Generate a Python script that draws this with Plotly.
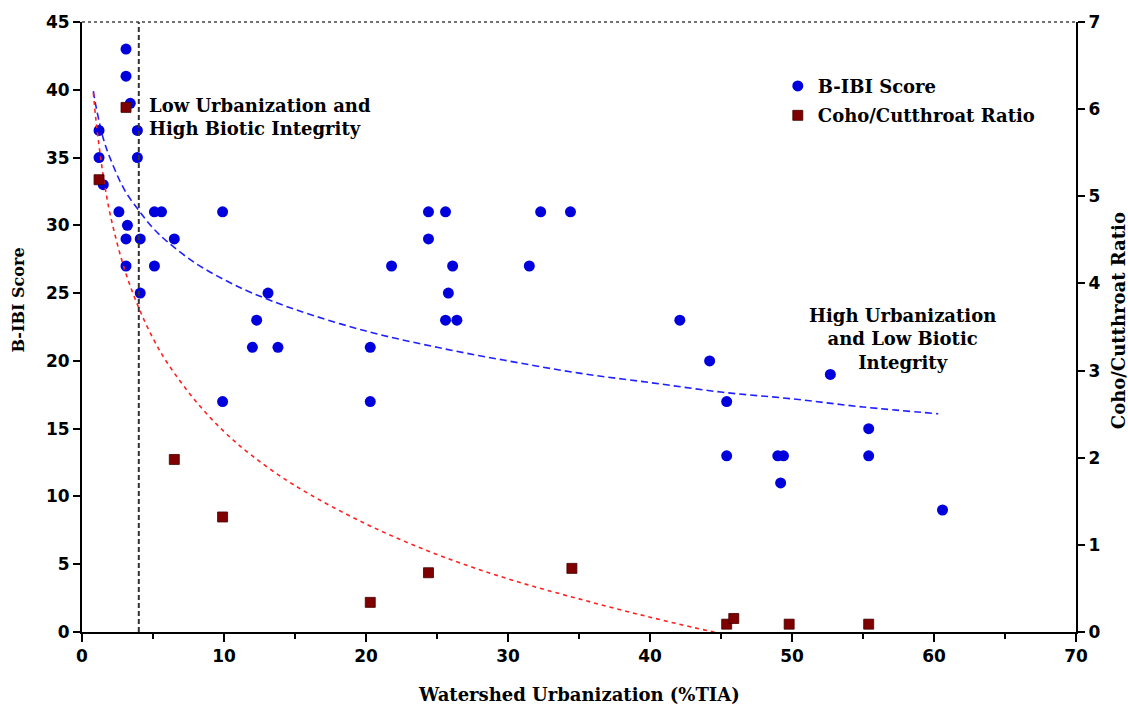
import plotly.graph_objects as go

# ---------------- data ----------------
bibi_tia = [3.1, 3.1, 3.4, 1.2, 3.9, 1.2, 3.9, 1.5, 2.6, 5.1, 5.6, 9.9, 24.4, 25.6, 32.3, 34.4,
            3.2, 3.1, 4.1, 6.5, 24.4, 3.1, 5.1, 21.8, 26.1, 31.5, 4.1, 13.1, 25.8,
            12.3, 25.6, 26.4, 42.1, 12.0, 13.8, 20.3, 44.2, 52.7, 9.9, 20.3, 45.4,
            55.4, 45.4, 49.0, 49.4, 55.4, 49.2, 60.6]
bibi_score = [43, 41, 39, 37, 37, 35, 35, 33, 31, 31, 31, 31, 31, 31, 31, 31,
              30, 29, 29, 29, 29, 27, 27, 27, 27, 27, 25, 25, 25,
              23, 23, 23, 23, 21, 21, 21, 20, 19, 17, 17, 17,
              15, 13, 13, 13, 13, 11, 9]

coho_tia = [3.1, 1.2, 6.5, 9.9, 20.3, 24.4, 34.5, 45.4, 45.9, 49.8, 55.4]
coho_ratio = [6.02, 5.19, 1.98, 1.32, 0.34, 0.68, 0.73, 0.09, 0.155, 0.09, 0.09]

# trend curves
bibi_trend_x = [0.8, 1, 1.5, 2, 3, 4, 5, 6, 8, 10, 12, 15, 20, 25, 30, 35, 40, 45, 50, 55, 60.3]
bibi_trend_y = [39.9, 38.7, 36.4, 34.9, 32.6, 31.1, 29.8, 28.8, 27.2, 26.0, 25.0, 23.8, 22.2,
                21.0, 20.0, 19.1, 18.4, 17.7, 17.2, 16.6, 16.1]
coho_trend_x = [0.8, 1, 1.5, 2, 3, 4, 5, 6, 8, 10, 12, 15, 20, 25, 30, 35, 40, 44.5, 46.8]
coho_trend_y = [6.19, 5.85, 5.23, 4.78, 4.16, 3.72, 3.37, 3.09, 2.65, 2.30, 2.02, 1.68, 1.24,
                0.89, 0.61, 0.38, 0.17, 0.0, -0.07]

threshold_tia = 4

x_ticks = [0, 10, 20, 30, 40, 50, 60, 70]
y_left_ticks = [0, 5, 10, 15, 20, 25, 30, 35, 40, 45]
y_right_ticks = [0, 1, 2, 3, 4, 5, 6, 7]

# ---------------- styling ----------------
SERIF = "DejaVu Serif"
SANS = "DejaVu Sans"
BLUE = "#0000DD"
DARKRED = "#800000"

fig = go.Figure()

fig.add_trace(go.Scatter(
    x=bibi_trend_x, y=bibi_trend_y, mode="lines", line_shape="spline",
    line=dict(color="#2020FF", width=1.6, dash="7px,4px"),
    showlegend=False, hoverinfo="skip"))

fig.add_trace(go.Scatter(
    x=coho_trend_x, y=coho_trend_y, mode="lines", line_shape="spline", yaxis="y2",
    line=dict(color="#FF2020", width=1.6, dash="4px,4px"),
    showlegend=False, hoverinfo="skip"))

fig.add_trace(go.Scatter(
    x=bibi_tia, y=bibi_score, mode="markers", name="B-IBI Score",
    legendgroup="a",
    marker=dict(symbol="circle", size=11, color=BLUE, line=dict(width=0))))

fig.add_trace(go.Scatter(
    x=coho_tia, y=coho_ratio, mode="markers", name="Coho/Cutthroat Ratio",
    yaxis="y2", legendgroup="b",
    marker=dict(symbol="square", size=10, color=DARKRED,
                line=dict(width=0.8, color="#400000"))))

# vertical threshold line
fig.add_shape(type="line", xref="x", yref="y", x0=threshold_tia, x1=threshold_tia,
              y0=0, y1=45, line=dict(color="#333333", width=2, dash="5px,3px"))
# dotted top border
fig.add_shape(type="line", xref="paper", yref="paper", x0=0, x1=1, y0=1, y1=1,
              line=dict(color="#444444", width=1.5, dash="dot"))

axis_common = dict(showgrid=False, zeroline=False, showline=True, linecolor="black",
                   linewidth=2, ticks="outside", tickcolor="black", tickwidth=2,
                   tickfont=dict(family=SANS, size=17, color="black", weight="bold"))

fig.update_layout(
    width=1128, height=706,
    margin=dict(l=82, r=52, t=22, b=74),
    paper_bgcolor="white", plot_bgcolor="white",
    xaxis=dict(range=[0, 70], tickvals=x_ticks, ticklen=8,
               minor=dict(dtick=5, ticks="outside", ticklen=5, tickcolor="black", tickwidth=2),
               **axis_common),
    yaxis=dict(range=[0, 45], tickvals=y_left_ticks, ticklen=7, **axis_common),
    yaxis2=dict(range=[0, 7], tickvals=y_right_ticks, ticklen=7, overlaying="y",
                side="right", **axis_common),
    legend=dict(x=0.70, y=0.925, xanchor="left", yanchor="top",
                bgcolor="rgba(0,0,0,0)", tracegroupgap=3,
                font=dict(family=SERIF, size=18, color="black", weight="bold")),
    showlegend=True,
)

ann_font = dict(family=SERIF, size=18, color="black", weight="bold")

fig.add_annotation(x=4.6, y=38.0, xref="x", yref="y", xanchor="left", yanchor="middle",
                   align="left", showarrow=False, font=ann_font,
                   text="Low Urbanization and<br>High Biotic Integrity")
fig.add_annotation(x=57.8, y=21.6, xref="x", yref="y", xanchor="center", yanchor="middle",
                   align="center", showarrow=False, font=ann_font,
                   text="High Urbanization<br>and Low Biotic<br>Integrity")

fig.add_annotation(x=0.5, y=-0.103, xref="paper", yref="paper", xanchor="center",
                   yanchor="middle", showarrow=False,
                   font=dict(family=SERIF, size=18, color="black", weight="bold"),
                   text="Watershed Urbanization (%TIA)")
fig.add_annotation(x=-0.064, y=0.544, xref="paper", yref="paper", xanchor="center",
                   yanchor="middle", showarrow=False, textangle=-90,
                   font=dict(family=SERIF, size=16, color="black", weight="bold"),
                   text="B-IBI Score")
fig.add_annotation(x=1.0435, y=0.51, xref="paper", yref="paper", xanchor="center",
                   yanchor="middle", showarrow=False, textangle=-90,
                   font=dict(family=SERIF, size=18, color="black", weight="bold"),
                   text="Coho/Cutthroat Ratio")

fig.write_html("out.html")
